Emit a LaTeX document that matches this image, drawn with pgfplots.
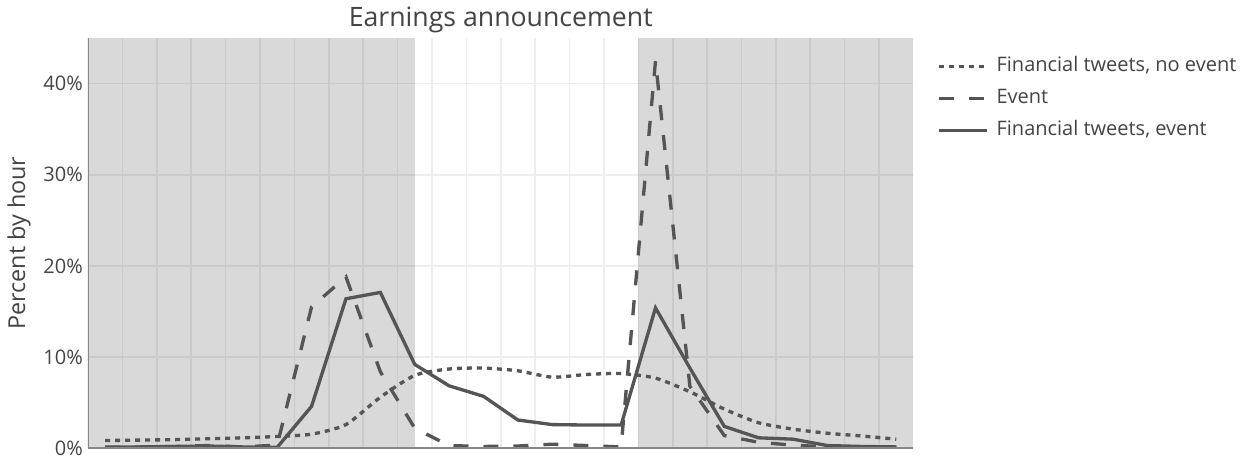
\documentclass[border=0pt]{standalone}
\usepackage{pgfplots}
\usepackage{pgfplotstable}
\pgfplotsset{compat=1.18}
\usepackage{fontspec}
\setmainfont{Open Sans}

\definecolor{txt}{HTML}{444444}
\definecolor{ln}{HTML}{555555}
\definecolor{gridc}{HTML}{EEEEEE}
\definecolor{axisc}{HTML}{888888}

% hour index, share of the day's volume (%)
\pgfplotstableread{
h  noevent event  fevent
0  0.85    0.10   0.15
1  0.90    0.15   0.15
2  0.95    0.20   0.20
3  1.05    0.30   0.25
4  1.15    0.15   0.15
5  1.30    0.35   0.10
6  1.55    15.5   4.60
7  2.60    18.8   16.4
8  5.60    8.40   17.1
9  8.00    2.20   9.20
10 8.70    0.30   6.85
11 8.80    0.20   5.70
12 8.50    0.25   3.10
13 7.80    0.45   2.60
14 8.10    0.30   2.55
15 8.20    0.15   2.55
16 7.70    42.5   15.4
17 6.20    6.80   8.80
18 4.30    1.40   2.40
19 2.80    0.65   1.15
20 2.10    0.35   1.00
21 1.65    0.15   0.30
22 1.35    0.10   0.20
23 1.00    0.10   0.15
}\hours

\begin{document}
\begin{tikzpicture}
\useasboundingbox (-66pt,-11.775pt) rectangle (866.25pt,336.225pt);
\begin{axis}[
  at={(0pt,0pt)}, anchor=south west,
  scale only axis, width=619.1pt, height=307.7pt,
  xmin=-0.5, xmax=23.5, ymin=0, ymax=45,
  xtick={0.5,1.5,...,22.5}, xticklabels={},
  ytick={0,10,20,30,40},
  yticklabels={0\%,10\%,20\%,30\%,40\%},
  major tick length=0pt,
  grid=major, grid style={gridc, line width=1.2pt},
  axis line style={draw=none},
  tick label style={font=\fontsize{15}{18}\selectfont, text=txt},
  yticklabel style={inner sep=0pt, xshift=-3.75pt},
  title={Earnings announcement},
  every axis title/.style={at={(axis description cs:0.5,1)}, anchor=base,
    yshift=8.4pt, font=\fontsize{20}{24}\selectfont, text=txt},
  ylabel={Percent by hour},
  every axis y label/.style={at={(axis description cs:-0.0763,0.5)},
    rotate=90, anchor=base, font=\fontsize{17.5}{21}\selectfont, text=txt},
  legend style={
    at={(axis description cs:1,1)}, anchor=north west,
    xshift=17.65pt, yshift=-14.25pt,
    draw=none, fill=none,
    font=\fontsize{15}{18}\selectfont, text=txt,
    row sep=10pt, inner xsep=0pt, inner ysep=0pt,
    nodes={inner sep=0pt, text height=11pt, text depth=3pt, text=txt},
  },
  legend cell align=left,
  legend image code/.code={\draw[#1] (0pt,0pt) -- (36pt,0pt); \path (42pt,0pt);},
]
% closed-market hours
\fill[black, fill opacity=0.15] (axis cs:-0.5,0) rectangle (axis cs:9,45);
\fill[black, fill opacity=0.15] (axis cs:15.5,0) rectangle (axis cs:23.5,45);

\addplot[ln, line width=2.5pt, dash pattern=on 3.75pt off 3.75pt, smooth, tension=0.4]
  table[x=h, y=noevent] {\hours};
\addlegendentry{Financial tweets, no event}
\addplot[ln, line width=2.5pt, dash pattern=on 11.25pt off 11.25pt]
  table[x=h, y=event] {\hours};
\addlegendentry{Event}
\addplot[ln, line width=2.5pt]
  table[x=h, y=fevent] {\hours};
\addlegendentry{Financial tweets, event}

% axis lines on the left and bottom edges
\draw[axisc, line width=1.9pt] (rel axis cs:0,0) -- (rel axis cs:0,1);
\draw[axisc, line width=1.9pt] (rel axis cs:0,0) -- (rel axis cs:1,0);
\end{axis}
\end{tikzpicture}
\end{document}
